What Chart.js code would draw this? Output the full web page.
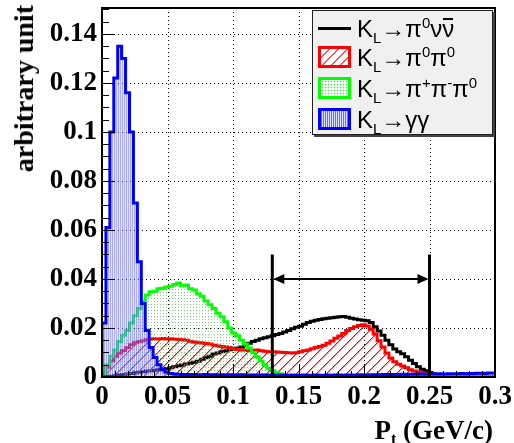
<!DOCTYPE html>
<html>
<head>
<meta charset="utf-8">
<script src="https://cdn.jsdelivr.net/npm/chart.js@4"></script>
<style>
  html, body { margin: 0; padding: 0; background: #fff; }
  #wrap { position: relative; width: 514px; height: 443px; }
  #wrap canvas { position: absolute; left: 0; top: 0; }
  .serif { font-family: "Liberation Serif", "Times New Roman", serif; font-weight: bold; color: #000; }
  #ytitle { position: absolute; left: 24px; top: 5px; font-size: 28px; line-height: 28px; white-space: nowrap;
            transform-origin: 0 0; transform: rotate(-90deg) translate(-100%, -50%); }
  #xtitle { position: absolute; right: 21px; top: 416px; font-size: 27px; line-height: 28px; white-space: nowrap; }
  #xtitle sub { font-size: 16px; vertical-align: -5px; line-height: 0; }
  #legend { position: absolute; left: 312px; top: 10px; width: 179px; height: 123px; background: #f0f0f0;
            border: 1px solid #222; box-shadow: 2px 2px 0 #444;
            font-family: "Liberation Sans", Arial, sans-serif; color: #000; }
  .row { position: absolute; left: 0; width: 100%; height: 31px; }
  .sample { position: absolute; left: 5px; top: 4px; width: 27px; height: 16px; border: 3px solid; }
  .lineS { position: absolute; left: 5px; top: 14px; width: 33px; height: 3px; background: #000; }
  .txt { position: absolute; left: 44px; top: 0; font-size: 24px; line-height: 31px; white-space: nowrap; }
  .txt sub { font-size: 15px; vertical-align: -6px; line-height: 0; }
  .txt sup { font-size: 15px; vertical-align: 9px; line-height: 0; }
  .bar { position: relative; }
  .bar::before { content: ""; position: absolute; left: 1px; right: 1px; top: 3px; border-top: 2px solid #000; }
</style>
</head>
<body>
<div id="wrap">
  <canvas id="c" width="514" height="443"></canvas>
  <div id="ytitle" class="serif">arbitrary unit</div>
  <div id="xtitle" class="serif">P<sub>t</sub> (GeV/c)</div>
  <div id="legend">
    <div class="row" style="top:2px"><div class="lineS"></div><div class="txt">K<sub>L</sub>→π<sup>0</sup>ν<span class="bar">ν</span></div></div>
    <div class="row" style="top:31px"><div class="sample" style="border-color:#f00;background:#fff repeating-linear-gradient(135deg, #fff 0 5px, #f55 5px 6.5px)"></div><div class="txt">K<sub>L</sub>→π<sup>0</sup>π<sup>0</sup></div></div>
    <div class="row" style="top:62px"><div class="sample" style="border-color:#0f0;background:#fff radial-gradient(circle, #5d5 40%, transparent 50%) 0 0 / 3px 3px"></div><div class="txt">K<sub>L</sub>→π<sup>+</sup>π<sup>-</sup>π<sup>0</sup></div></div>
    <div class="row" style="top:93px"><div class="sample" style="border-color:#00f;background:repeating-linear-gradient(90deg, #6a6aff 0 1px, #e0e0ff 1px 2px)"></div><div class="txt">K<sub>L</sub>→γγ</div></div>
  </div>
</div>
<script>
// histograms: 100 bins of width 0.003 GeV/c from 0 to 0.3
const binWidth = 0.003;

const blueVals = [
  0.022, 0.061, 0.100, 0.122, 0.135, 0.130, 0.116, 0.100, 0.071, 0.047,
  0.030, 0.019, 0.012, 0.008, 0.005, 0.003, 0.002, 0.0014, 0.0012, 0.0011,
  0.0010, 0.0010, 0.0009, 0.0010, 0.0009, 0.0009, 0.0010, 0.0009, 0.0009, 0.0008,
  0.0009, 0.0008, 0.0009, 0.0008, 0.0008, 0.0009, 0.0008, 0.0008, 0.0008, 0.0007,
  0.0008, 0.0008, 0.0007, 0.0008, 0.0007, 0.0008, 0.0007, 0.0007, 0.0008, 0.0007,
  0.0007, 0.0008, 0.0007, 0.0007, 0.0008, 0.0007, 0.0007, 0.0008, 0.0007, 0.0008,
  0.0008, 0.0007, 0.0008, 0.0008, 0.0008, 0.0009, 0.0008, 0.0008, 0.0009, 0.0009,
  0.0009, 0.0010, 0.0009, 0.0010, 0.0010, 0.0010, 0.0011, 0.0010, 0.0011, 0.0011,
  0.0011, 0.0012, 0.0011, 0.0012, 0.0012, 0.0012, 0.0013, 0.0012, 0.0013, 0.0013,
  0.0013, 0.0014, 0.0013, 0.0014, 0.0014, 0.0015, 0.0015, 0.0014, 0.0016, 0.0016
];
const greenVals = [
  0.0015, 0.005, 0.0085, 0.011, 0.0145, 0.017, 0.019, 0.022, 0.025, 0.028,
  0.031, 0.0335, 0.0348, 0.035, 0.036, 0.0362, 0.0367, 0.037, 0.0378, 0.0384,
  0.0372, 0.0375, 0.036, 0.0355, 0.034, 0.033, 0.031, 0.0295, 0.028, 0.026,
  0.0246, 0.0225, 0.020, 0.018, 0.0168, 0.015, 0.0135, 0.0118, 0.010, 0.0083,
  0.0065, 0.0048, 0.0035, 0.0026, 0.0018, 0.0012, 0.0008, 0.0005, 0.0003, 0.0002,
  0.0001, 0.0001, 0.0001, 0.0001, 0.0001, 0.0001, 0, 0, 0, 0,
  0, 0, 0, 0, 0, 0, 0, 0, 0, 0,
  0, 0, 0, 0, 0, 0, 0, 0, 0, 0,
  0, 0, 0, 0, 0, 0, 0, 0, 0, 0,
  0, 0, 0, 0, 0, 0, 0, 0, 0, 0
];
const redVals = [
  0.0015, 0.004, 0.0065, 0.0085, 0.0098, 0.0108, 0.012, 0.0132, 0.014, 0.0145,
  0.0148, 0.0152, 0.0155, 0.0156, 0.0155, 0.0157, 0.0155, 0.0156, 0.0154, 0.0153,
  0.0152, 0.015, 0.0146, 0.0143, 0.014, 0.0139, 0.0137, 0.0135, 0.013, 0.0127,
  0.0124, 0.0122, 0.012, 0.0116, 0.0112, 0.011, 0.011, 0.0108, 0.0108, 0.011,
  0.0107, 0.0105, 0.0103, 0.0103, 0.0102, 0.0101, 0.010, 0.0099, 0.0098, 0.0099,
  0.0103, 0.0107, 0.011, 0.0115, 0.012, 0.0124, 0.013, 0.0138, 0.0147, 0.0158,
  0.0167, 0.0178, 0.019, 0.0198, 0.0205, 0.021, 0.0213, 0.0208, 0.0195, 0.0175,
  0.0148, 0.0122, 0.0098, 0.0078, 0.0062, 0.0052, 0.0045, 0.0038, 0.003, 0.0024,
  0.002, 0.0017, 0.0014, 0.0012, 0.001, 0.0009, 0.0008, 0.0007, 0.0006, 0.0006,
  0.0005, 0.0005, 0.0004, 0.0004, 0.0004, 0.0003, 0.0003, 0.0003, 0.0002, 0.0002
];
const blackVals = [
  0.0001, 0.0002, 0.0003, 0.0005, 0.0008, 0.001, 0.0012, 0.0014, 0.0017, 0.0019,
  0.0021, 0.0024, 0.0026, 0.0028, 0.003, 0.0032, 0.0035, 0.0038, 0.0042, 0.0046,
  0.0049, 0.0053, 0.0056, 0.006, 0.0064, 0.0072, 0.0079, 0.0085, 0.0094, 0.0098,
  0.0103, 0.0107, 0.0111, 0.0114, 0.0118, 0.0122, 0.013, 0.0138, 0.0145, 0.015,
  0.0156, 0.016, 0.0164, 0.0168, 0.0173, 0.0178, 0.0184, 0.019, 0.0197, 0.0203,
  0.0207, 0.0215, 0.0222, 0.0228, 0.0232, 0.0235, 0.0238, 0.024, 0.0242, 0.0244,
  0.0246, 0.0247, 0.0244, 0.024, 0.0237, 0.0234, 0.0232, 0.023, 0.0222, 0.0205,
  0.0188, 0.017, 0.015, 0.0132, 0.0114, 0.0103, 0.0095, 0.0083, 0.0068, 0.0055,
  0.0042, 0.0032, 0.0025, 0.0018, 0.0013, 0.001, 0.0008, 0.0006, 0.0005, 0.0004,
  0.0003, 0.0003, 0.0003, 0.0002, 0.0002, 0.0002, 0.0002, 0.0001, 0.0001, 0.0001
];

const xTicks = [0, 0.05, 0.1, 0.15, 0.2, 0.25, 0.3];
const xTickLabels = ['0', '0.05', '0.1', '0.15', '0.2', '0.25', '0.3'];
const yTicks = [0, 0.02, 0.04, 0.06, 0.08, 0.1, 0.12, 0.14];
const yTickLabels = ['0', '0.02', '0.04', '0.06', '0.08', '0.1', '0.12', '0.14'];
const xMinorStep = 0.01;
const yMinorStep = 0.005;
const xMax = 0.3;
const yMax = 0.1506;

// signal region P_t cut
const cutLow = 0.13;
const cutHigh = 0.25;
const cutLineTop = 0.05;
const cutArrowY = 0.04;

// step points at bin right edges, starting from (0, 0)
function histPoints(vals) {
  const pts = [{x: 0, y: 0}];
  vals.forEach((v, i) => pts.push({x: +((i + 1) * binWidth).toFixed(4), y: v}));
  return pts;
}

function makePattern(w, h, draw) {
  const c = document.createElement('canvas');
  c.width = w; c.height = h;
  const g = c.getContext('2d');
  draw(g);
  return g.createPattern(c, 'repeat');
}
const redHatch = makePattern(10, 10, g => {
  for (let i = 0; i < 10; i++) {
    g.fillStyle = '#ff0000';
    g.fillRect(i, 9 - i, 1, 1);
    g.fillStyle = 'rgba(255,0,0,0.45)';
    g.fillRect((i + 1) % 10, 9 - i, 1, 1);
  }
});
const greenDots = makePattern(3, 3, g => {
  g.fillStyle = 'rgba(60,210,60,0.75)';
  g.fillRect(1, 1, 1, 1);
});
const blueLines = makePattern(2, 1, g => {
  g.fillStyle = 'rgba(90,90,255,0.5)';
  g.fillRect(0, 0, 1, 1);
  g.fillStyle = 'rgba(180,180,255,0.35)';
  g.fillRect(1, 0, 1, 1);
});

function hist(label, vals, color, fillPattern) {
  return {
    label: label,
    data: histPoints(vals),
    borderColor: color,
    borderWidth: 3,
    backgroundColor: fillPattern || 'rgba(0,0,0,0)',
    fill: fillPattern ? 'origin' : false,
    stepped: 'after',
    pointRadius: 0,
    tension: 0
  };
}

const serifFont = {family: 'Liberation Serif', weight: 'bold', size: 27};

const axisDecor = {
  id: 'axisDecor',
  beforeDatasetsDraw(chart) {
    const {ctx, chartArea: a, scales: {x, y}} = chart;
    ctx.save();
    ctx.strokeStyle = '#000';
    ctx.lineWidth = 1;
    ctx.setLineDash([1, 3]);
    xTicks.forEach(v => {
      if (v <= 0 || v >= xMax) return;
      const px = Math.round(x.getPixelForValue(v)) + 0.5;
      ctx.beginPath(); ctx.moveTo(px, a.top); ctx.lineTo(px, a.bottom); ctx.stroke();
    });
    yTicks.forEach(v => {
      if (v <= 0) return;
      const py = Math.round(y.getPixelForValue(v)) + 0.5;
      ctx.beginPath(); ctx.moveTo(a.left, py); ctx.lineTo(a.right, py); ctx.stroke();
    });
    ctx.restore();
  },
  afterDatasetsDraw(chart) {
    const {ctx, chartArea: a, scales: {x, y}} = chart;
    ctx.save();
    ctx.strokeStyle = '#000';
    ctx.fillStyle = '#000';
    // ticks inside the frame
    ctx.lineWidth = 1;
    for (let k = 0; k * yMinorStep <= yMax; k++) {
      const major = k % 4 === 0;
      const py = Math.round(y.getPixelForValue(k * yMinorStep)) + 0.5;
      ctx.beginPath(); ctx.moveTo(a.left, py); ctx.lineTo(a.left + (major ? 13 : 7), py); ctx.stroke();
    }
    for (let k = 0; k * xMinorStep <= xMax + 1e-9; k++) {
      const major = k % 5 === 0;
      const px = Math.round(x.getPixelForValue(k * xMinorStep)) + 0.5;
      ctx.beginPath(); ctx.moveTo(px, a.bottom); ctx.lineTo(px, a.bottom - (major ? 12 : 6)); ctx.stroke();
    }
    // frame
    ctx.lineWidth = 2;
    ctx.strokeRect(a.left, a.top, a.right - a.left, a.bottom - a.top);
    // cut region lines and double arrow
    const x1 = x.getPixelForValue(cutLow), x2 = x.getPixelForValue(cutHigh);
    const y0 = y.getPixelForValue(0), yt = y.getPixelForValue(cutLineTop), ya = y.getPixelForValue(cutArrowY);
    ctx.lineWidth = 3;
    [x1, x2].forEach(px => { ctx.beginPath(); ctx.moveTo(px, y0); ctx.lineTo(px, yt); ctx.stroke(); });
    ctx.lineWidth = 2;
    ctx.beginPath(); ctx.moveTo(x1 + 4, ya); ctx.lineTo(x2 - 4, ya); ctx.stroke();
    ctx.beginPath(); ctx.moveTo(x1 + 1, ya); ctx.lineTo(x1 + 12, ya - 5); ctx.lineTo(x1 + 12, ya + 5); ctx.closePath(); ctx.fill();
    ctx.beginPath(); ctx.moveTo(x2 - 1, ya); ctx.lineTo(x2 - 12, ya - 5); ctx.lineTo(x2 - 12, ya + 5); ctx.closePath(); ctx.fill();
    ctx.restore();
  }
};

new Chart(document.getElementById('c'), {
  type: 'line',
  data: {
    datasets: [
      hist('K_L → γγ', blueVals, '#0000ff', blueLines),
      hist('K_L → π+π-π0', greenVals, '#00ff00', greenDots),
      hist('K_L → π0π0', redVals, '#ff0000', redHatch),
      hist('K_L → π0νν', blackVals, '#000000', null)
    ]
  },
  options: {
    responsive: false,
    animation: false,
    devicePixelRatio: 1,
    layout: {padding: {top: 8, right: 19, left: 0, bottom: 0}},
    plugins: {legend: {display: false}, tooltip: {enabled: false}},
    scales: {
      x: {
        type: 'linear', min: 0, max: xMax,
        grid: {display: false, drawTicks: false},
        border: {display: false},
        afterBuildTicks: s => { s.ticks = xTicks.map(v => ({value: v})); },
        afterFit: s => { s.height = 66; s.paddingLeft = 0; s.paddingRight = 0; },
        ticks: {callback: (v, i) => xTickLabels[i], font: serifFont, color: '#000', padding: 4, maxRotation: 0, autoSkip: false}
      },
      y: {
        min: 0, max: yMax,
        grid: {display: false, drawTicks: false},
        border: {display: false},
        afterBuildTicks: s => { s.ticks = yTicks.map(v => ({value: v})); },
        afterFit: s => { s.width = 102; s.paddingTop = 0; s.paddingBottom = 0; },
        ticks: {callback: (v, i) => yTickLabels[i], font: serifFont, color: '#000', padding: 5, autoSkip: false}
      }
    }
  },
  plugins: [axisDecor]
});
</script>
</body>
</html>
